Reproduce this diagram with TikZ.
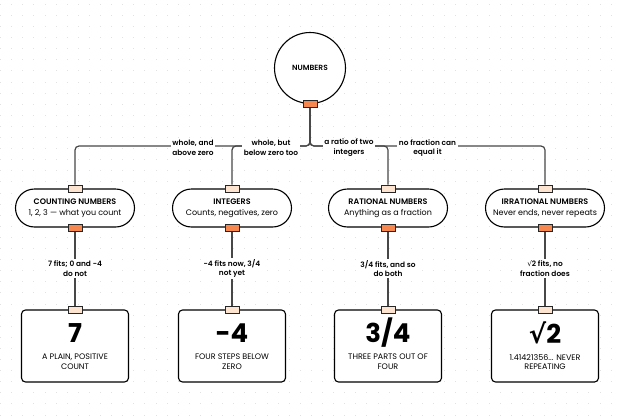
\documentclass[tikz,border=0pt]{standalone}
\usepackage{fontspec}
\setmainfont{Poppins}
\newfontfamily\medf{Poppins Medium}
\newfontfamily\semif{Poppins SemiBold}
\newfontfamily\symf{DejaVu Sans}
\usetikzlibrary{shapes.misc}
\definecolor{dotc}{HTML}{E2E2E2}
\definecolor{linec}{HTML}{474747}
\definecolor{porto}{HTML}{F5874F}
\definecolor{portc}{HTML}{FCE4D0}
\tikzset{
  conn/.style={draw=linec, line width=1.2pt, rounded corners=4pt},
  portbox/.style={rectangle, draw=black!85, line width=0.9pt, minimum width=14pt, minimum height=7pt, inner sep=0pt},
  porto/.style={portbox, fill=porto},
  portc/.style={portbox, fill=portc},
  pill/.style={rounded rectangle, draw=black, line width=1.1pt, fill=white, minimum width=119pt, minimum height=38pt, align=center, inner sep=0pt, font=\fontsize{8}{10.6}\selectfont},
  card/.style={rectangle, rounded corners=4pt, draw=black, line width=1.1pt, fill=white, minimum width=107pt, minimum height=72pt},
  bign/.style={font=\fontsize{26}{30}\selectfont\bfseries, inner sep=0pt},
  cardsub/.style={font=\fontsize{8}{9.8}\selectfont, align=center, inner sep=0pt},
  elabel/.style={fill=white, inner sep=1.5pt, align=center, font=\fontsize{7.4}{9.8}\selectfont\semif},
}
\begin{document}
\begin{tikzpicture}[x=1pt,y=-1pt]
\useasboundingbox (0,0) rectangle (620,415);
\fill[white] (0,0) rectangle (620,415);
\foreach \i in {0,...,55} {
  \foreach \j in {0,...,37} {
    \fill[dotc] ({0.6+11.1*\i-0.5},{4.3+11.1*\j-0.5}) rectangle ++(1,1);
  }
}
\coordinate (bus) at (0,146);
% root
\node[circle, draw=black, line width=1.1pt, fill=white, minimum size=71pt, inner sep=0pt, font=\fontsize{7.5}{9}\selectfont\semif] (root) at (310,68) {NUMBERS};
% children
\node[pill] (c1) at (75,208) {{\semif COUNTING NUMBERS}\\1, 2, 3 — what you count};
\node[pill] (c2) at (232,208) {{\semif INTEGERS}\\Counts, negatives, zero};
\node[pill] (c3) at (388,208) {{\semif RATIONAL NUMBERS}\\Anything as a fraction};
\node[pill] (c4) at (545,208) {{\semif IRRATIONAL NUMBERS}\\Never ends, never repeats};
% cards
\node[card] (k1) at (75,346) {};
\node[card] (k2) at (232,346) {};
\node[card] (k3) at (388,346) {};
\node[card] (k4) at (545,346) {};
\node[bign] (k1n) at (75,333) {7};
\node[bign] (k2n) at (232,333) {-4};
\node[bign] (k3n) at (388,333) {3/4};
\node[bign] (k4n) at (545,333) {{\symf √}2};
\node[cardsub] (k1s) at (75,362) {A PLAIN, POSITIVE\\COUNT};
\node[cardsub] (k2s) at (232,362) {FOUR STEPS BELOW\\ZERO};
\node[cardsub] (k3s) at (388,362) {THREE PARTS OUT OF\\FOUR};
\node[cardsub] (k4s) at (545,362) {1.41421356... NEVER\\REPEATING};
% ports
\node[porto] (rp) at (root.south) {};
\foreach \n in {1,2,3,4} {
  \node[portc] (c\n in) at (c\n.north) {};
  \node[porto] (c\n out) at (c\n.south) {};
  \node[portc] (k\n in) at (k\n.north) {};
}
% connectors
\draw[conn] (rp.south) -- (rp.south |- bus) -| (c1in.north);
\draw[conn] (rp.south) -- (rp.south |- bus) -| (c2in.north);
\draw[conn] (rp.south) -- (rp.south |- bus) -| (c3in.north);
\draw[conn] (rp.south) -- (rp.south |- bus) -| (c4in.north);
\foreach \n in {1,2,3,4} {
  \draw[conn] (c\n out.south) -- (k\n in.north);
}
% labels
\node[elabel] (l1) at (193,148) {whole, and\\above zero};
\node[elabel] (l2) at (271,148) {whole, but\\below zero too};
\node[elabel] (l3) at (349,148) {a ratio of two\\integers};
\node[elabel] (l4) at (427.5,148) {no fraction can\\equal it};
\node[elabel] (m1) at (75,268.5) {7 fits; 0 and -4\\do not};
\node[elabel] (m2) at (232,268.5) {-4 fits now, 3/4\\not yet};
\node[elabel] (m3) at (388,268.5) {3/4 fits, and so\\do both};
\node[elabel] (m4) at (545,268.5) {{\symf √}2 fits, no\\fraction does};
\end{tikzpicture}
\end{document}
